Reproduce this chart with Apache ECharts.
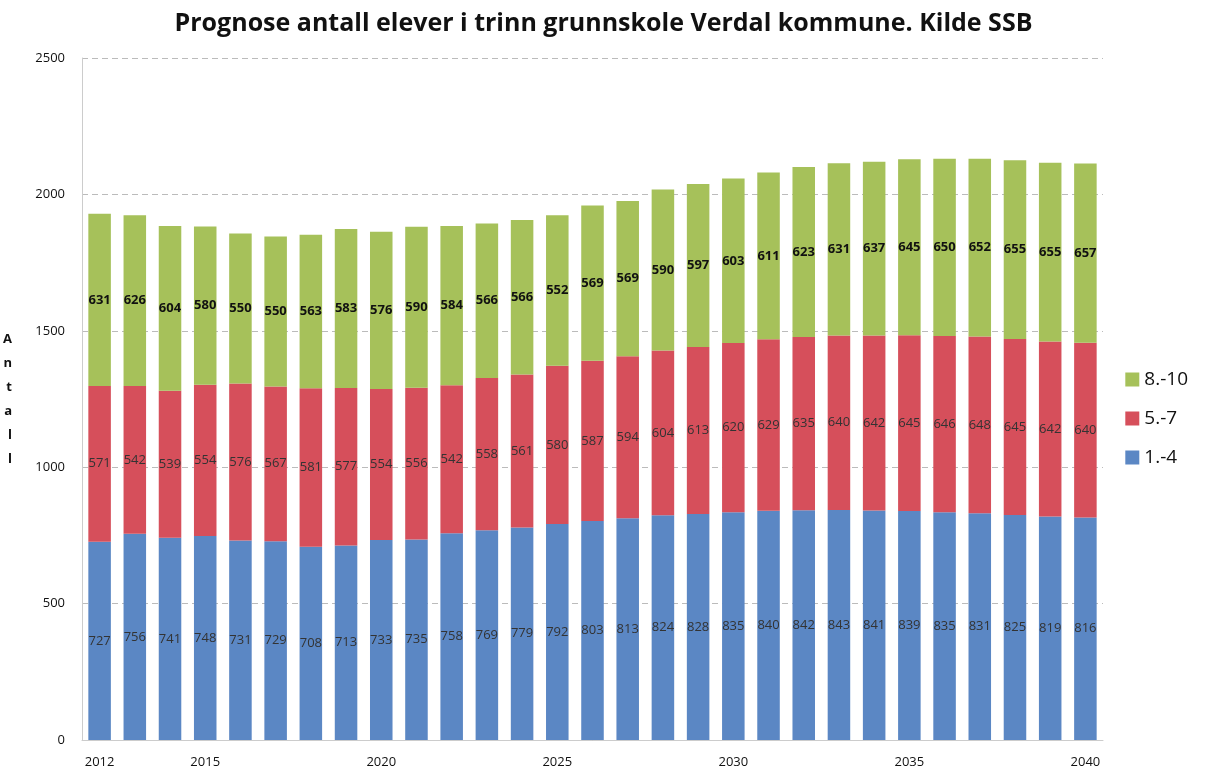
<!DOCTYPE html>
<html>
<head>
<meta charset="utf-8">
<script src="https://cdn.jsdelivr.net/npm/echarts@6/dist/echarts.min.js"></script>
<style>
  html, body { margin: 0; padding: 0; background: #fff; }
  #chart { width: 1207px; height: 772px; }
</style>
</head>
<body>
<div id="chart"></div>
<script>
const years = [];
for (let y = 2012; y <= 2040; y++) years.push(String(y));
const shownYears = ['2012', '2015', '2020', '2025', '2030', '2035', '2040'];

// 1.-4. trinn
const trinn1_4 = [727, 756, 741, 748, 731, 729, 708, 713, 733, 735, 758, 769, 779, 792, 803,
  813, 824, 828, 835, 840, 842, 843, 841, 839, 835, 831, 825, 819, 816];
// 5.-7. trinn
const trinn5_7 = [571, 542, 539, 554, 576, 567, 581, 577, 554, 556, 542, 558, 561, 580, 587,
  594, 604, 613, 620, 629, 635, 640, 642, 645, 646, 648, 645, 642, 640];
// 8.-10. trinn
const trinn8_10 = [631, 626, 604, 580, 550, 550, 563, 583, 576, 590, 584, 566, 566, 552, 569,
  569, 590, 597, 603, 611, 623, 631, 637, 645, 650, 652, 655, 655, 657];

const font = '"Open Sans", sans-serif';

const chart = echarts.init(document.getElementById('chart'));

function barSeries(name, data, color, labelColor) {
  return {
    name: name,
    type: 'bar',
    stack: 'total',
    barCategoryGap: '36%',
    data: data,
    itemStyle: { color: color },
    label: {
      show: true,
      position: 'inside',
      color: labelColor,
      fontFamily: font,
      fontSize: 13,
      fontWeight: name === '8.-10' ? 'bold' : 'normal'
    }
  };
}

chart.setOption({
  animation: false,
  title: {
    text: 'Prognose antall elever i trinn grunnskole Verdal kommune. Kilde SSB',
    left: 'center',
    top: 6,
    textStyle: { fontFamily: font, fontSize: 25, fontWeight: 'bold', color: '#111' }
  },
  legend: {
    orient: 'vertical',
    right: 14,
    top: 365,
    itemWidth: 14,
    itemHeight: 14,
    itemGap: 20,
    icon: 'rect',
    data: ['8.-10', '5.-7', '1.-4'],
    textStyle: { fontFamily: font, fontSize: 19, color: '#111' }
  },
  grid: { left: 82, right: 104, top: 58, bottom: 32 },
  xAxis: {
    type: 'category',
    data: years,
    axisTick: { show: false },
    axisLine: { lineStyle: { color: '#ccc' } },
    axisLabel: {
      interval: (i, v) => shownYears.includes(v),
      margin: 16,
      fontFamily: font,
      fontSize: 13,
      color: '#111'
    }
  },
  yAxis: {
    type: 'value',
    min: 0,
    max: 2500,
    interval: 500,
    name: 'A\nn\nt\na\nl\nl',
    nameLocation: 'middle',
    nameRotate: 0,
    nameGap: 70,
    nameTextStyle: { fontFamily: font, fontSize: 13, fontWeight: 'bold', lineHeight: 24, color: '#111' },
    axisLine: { show: true, lineStyle: { color: '#ccc' } },
    axisLabel: {
      fontFamily: font,
      fontSize: 13,
      color: '#111',
      margin: 17,
      formatter: v => String(v)
    },
    splitLine: { lineStyle: { color: '#bbb', type: [6, 4] } }
  },
  series: [
    barSeries('1.-4', trinn1_4, '#5b87c4', '#333'),
    barSeries('5.-7', trinn5_7, '#d64f5b', '#333'),
    barSeries('8.-10', trinn8_10, '#a6c15a', '#111')
  ]
});
</script>
</body>
</html>
